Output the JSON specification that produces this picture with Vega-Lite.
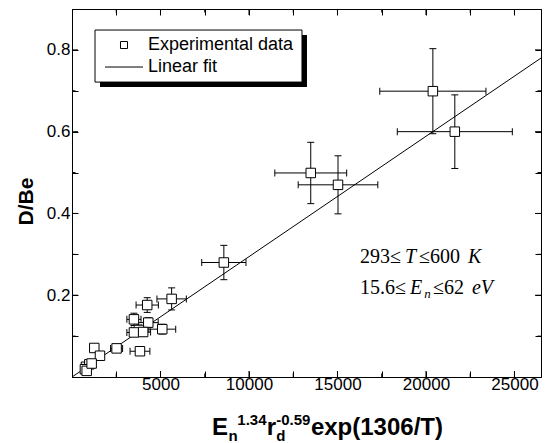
{
  "$schema": "https://vega.github.io/schema/vega-lite/v6.json",
  "width": 469,
  "height": 368,
  "autosize": "none",
  "padding": {"left": 72, "top": 9, "right": 4, "bottom": 66},
  "background": "white",
  "config": {
    "view": {"stroke": "black", "strokeWidth": 1},
    "font": "Liberation Sans",
    "axis": {"domainColor": "black", "tickColor": "black", "labelColor": "black", "titleColor": "black", "grid": false, "zindex": 1, "ticks": true, "tickWidth": 1, "tickOpacity": 1}
  },
  "datasets": {
    "exp": [
      {"x": 20390, "y": 0.699, "xlo": 17390, "xhi": 23390, "ylo": 0.595, "yhi": 0.803},
      {"x": 21630, "y": 0.600, "xlo": 18380, "xhi": 24880, "ylo": 0.510, "yhi": 0.690},
      {"x": 13490, "y": 0.499, "xlo": 11460, "xhi": 15520, "ylo": 0.424, "yhi": 0.574},
      {"x": 15030, "y": 0.470, "xlo": 12780, "xhi": 17280, "ylo": 0.399, "yhi": 0.541},
      {"x": 8580, "y": 0.280, "xlo": 7330, "xhi": 9830, "ylo": 0.238, "yhi": 0.322},
      {"x": 5630, "y": 0.191, "xlo": 4800, "xhi": 6460, "ylo": 0.164, "yhi": 0.218},
      {"x": 5100, "y": 0.117, "xlo": 4340, "xhi": 5860, "ylo": 0.105, "yhi": 0.129},
      {"x": 4250, "y": 0.176, "xlo": 3620, "xhi": 4880, "ylo": 0.158, "yhi": 0.194},
      {"x": 3500, "y": 0.141, "xlo": 3100, "xhi": 3900, "ylo": 0.126, "yhi": 0.156},
      {"x": 4310, "y": 0.133, "xlo": 3750, "xhi": 4870, "ylo": 0.121, "yhi": 0.145},
      {"x": 3780, "y": 0.115, "xlo": 3360, "xhi": 4200, "ylo": 0.103, "yhi": 0.127},
      {"x": 3500, "y": 0.109, "xlo": 3100, "xhi": 3900, "ylo": 0.099, "yhi": 0.119},
      {"x": 4020, "y": 0.110, "xlo": 3600, "xhi": 4440, "ylo": 0.100, "yhi": 0.120},
      {"x": 3840, "y": 0.063, "xlo": 3280, "xhi": 4400, "ylo": 0.063, "yhi": 0.063},
      {"x": 2520, "y": 0.070, "xlo": 2180, "xhi": 2860, "ylo": 0.070, "yhi": 0.070},
      {"x": 1260, "y": 0.071, "xlo": 1260, "xhi": 1260, "ylo": 0.071, "yhi": 0.071},
      {"x": 1580, "y": 0.052, "xlo": 1580, "xhi": 1580, "ylo": 0.052, "yhi": 0.052},
      {"x": 790, "y": 0.025, "xlo": 790, "xhi": 790, "ylo": 0.025, "yhi": 0.025},
      {"x": 980, "y": 0.031, "xlo": 980, "xhi": 980, "ylo": 0.031, "yhi": 0.031},
      {"x": 730, "y": 0.019, "xlo": 730, "xhi": 730, "ylo": 0.019, "yhi": 0.019},
      {"x": 830, "y": 0.015, "xlo": 830, "xhi": 830, "ylo": 0.015, "yhi": 0.015},
      {"x": 1110, "y": 0.033, "xlo": 1110, "xhi": 1110, "ylo": 0.033, "yhi": 0.033}
    ],
    "fit": [
      {"x": 0, "y": 0.0},
      {"x": 26500, "y": 0.78}
    ],
    "xmaj": [{"v": 5000}, {"v": 10000}, {"v": 15000}, {"v": 20000}, {"v": 25000}],
    "xmin": [{"v": 2500}, {"v": 7500}, {"v": 12500}, {"v": 17500}, {"v": 22500}],
    "ymaj": [{"v": 0.2}, {"v": 0.4}, {"v": 0.6}, {"v": 0.8}],
    "ymin": [{"v": 0.1}, {"v": 0.3}, {"v": 0.5}, {"v": 0.7}],
    "one": [{}]
  },
  "layer": [
    {
      "data": {"name": "one"},
      "mark": {"type": "rect", "fill": "black", "clip": false},
      "encoding": {
        "x": {"datum": 1582, "type": "quantitative", "scale": {"domain": [0, 26500], "nice": false, "zero": false}, "axis": null},
        "x2": {"datum": 13278},
        "y": {"datum": 0.8364, "type": "quantitative", "scale": {"domain": [0, 0.9], "nice": false, "zero": false}, "axis": null},
        "y2": {"datum": 0.7092}
      }
    },
    {
      "data": {"name": "exp"},
      "mark": {"type": "rule", "color": "black", "strokeWidth": 1},
      "encoding": {
        "x": {"field": "x", "type": "quantitative", "scale": {"domain": [0, 26500], "nice": false, "zero": false}, "axis": null},
        "y": {"field": "ylo", "type": "quantitative", "scale": {"domain": [0, 0.9], "nice": false, "zero": false}, "axis": null},
        "y2": {"field": "yhi"}
      }
    },
    {
      "data": {"name": "exp"},
      "mark": {"type": "rule", "color": "black", "strokeWidth": 1},
      "encoding": {
        "x": {"field": "xlo", "type": "quantitative", "scale": {"domain": [0, 26500], "nice": false, "zero": false}, "axis": null},
        "x2": {"field": "xhi"},
        "y": {"field": "y", "type": "quantitative", "scale": {"domain": [0, 0.9], "nice": false, "zero": false}, "axis": null}
      }
    },
    {
      "data": {"name": "exp"},
      "mark": {"type": "tick", "orient": "horizontal", "size": 7, "thickness": 1, "color": "black", "opacity": 1},
      "encoding": {
        "x": {"field": "x", "type": "quantitative", "scale": {"domain": [0, 26500], "nice": false, "zero": false}, "axis": null},
        "y": {"field": "ylo", "type": "quantitative", "scale": {"domain": [0, 0.9], "nice": false, "zero": false}, "axis": null}
      }
    },
    {
      "data": {"name": "exp"},
      "mark": {"type": "tick", "orient": "horizontal", "size": 7, "thickness": 1, "color": "black", "opacity": 1},
      "encoding": {
        "x": {"field": "x", "type": "quantitative", "scale": {"domain": [0, 26500], "nice": false, "zero": false}, "axis": null},
        "y": {"field": "yhi", "type": "quantitative", "scale": {"domain": [0, 0.9], "nice": false, "zero": false}, "axis": null}
      }
    },
    {
      "data": {"name": "exp"},
      "mark": {"type": "tick", "orient": "vertical", "size": 7, "thickness": 1, "color": "black", "opacity": 1},
      "encoding": {
        "x": {"field": "xlo", "type": "quantitative", "scale": {"domain": [0, 26500], "nice": false, "zero": false}, "axis": null},
        "y": {"field": "y", "type": "quantitative", "scale": {"domain": [0, 0.9], "nice": false, "zero": false}, "axis": null}
      }
    },
    {
      "data": {"name": "exp"},
      "mark": {"type": "tick", "orient": "vertical", "size": 7, "thickness": 1, "color": "black", "opacity": 1},
      "encoding": {
        "x": {"field": "xhi", "type": "quantitative", "scale": {"domain": [0, 26500], "nice": false, "zero": false}, "axis": null},
        "y": {"field": "y", "type": "quantitative", "scale": {"domain": [0, 0.9], "nice": false, "zero": false}, "axis": null}
      }
    },
    {
      "data": {"name": "fit"},
      "mark": {"type": "line", "color": "black", "strokeWidth": 1},
      "encoding": {
        "x": {"field": "x", "type": "quantitative", "scale": {"domain": [0, 26500], "nice": false, "zero": false},
          "axis": {"orient": "top", "title": null, "labels": false, "values": [2500, 5000, 7500, 10000, 12500, 15000, 17500, 20000, 22500, 25000], "tickSize": -6, "domain": true}},
        "y": {"field": "y", "type": "quantitative", "scale": {"domain": [0, 0.9], "nice": false, "zero": false},
          "axis": {"orient": "right", "title": null, "labels": false, "values": [0.1, 0.2, 0.3, 0.4, 0.5, 0.6, 0.7, 0.8], "tickSize": -6, "domain": true}}
      }
    },
    {
      "data": {"name": "exp"},
      "mark": {"type": "point", "shape": "square", "filled": false, "fill": "white", "fillOpacity": 1, "stroke": "black", "color": "black", "strokeWidth": 1, "size": 90, "opacity": 1},
      "encoding": {
        "x": {"field": "x", "type": "quantitative", "scale": {"domain": [0, 26500], "nice": false, "zero": false},
          "axis": {"orient": "bottom", "title": null, "format": "d", "values": [2500, 5000, 7500, 10000, 12500, 15000, 17500, 20000, 22500, 25000],
            "labelExpr": "datum.value % 5000 == 0 ? datum.label : ''", "labelOverlap": false, "labelFlush": false,
            "labelFont": "Liberation Sans", "labelFontSize": 17, "labelPadding": 5, "tickSize": -6, "domain": true}},
        "y": {"field": "y", "type": "quantitative", "scale": {"domain": [0, 0.9], "nice": false, "zero": false},
          "axis": {"orient": "left", "title": "D/Be", "format": ".1f", "values": [0.1, 0.2, 0.3, 0.4, 0.5, 0.6, 0.7, 0.8],
            "labelExpr": "round(datum.value*10) % 2 == 0 ? datum.label : ''", "labelOverlap": false, "labelFlush": false,
            "labelFont": "Liberation Sans", "labelFontSize": 17, "labelPadding": 8, "tickSize": -6, "domain": true,
            "titleFont": "Liberation Sans", "titleFontSize": 21, "titleFontWeight": "bold", "titlePadding": 10, "titleY": 192}}
      }
    },
    {
      "data": {"name": "xmaj"},
      "mark": {"type": "tick", "orient": "vertical", "size": 12, "thickness": 1, "color": "black", "opacity": 1, "clip": true},
      "encoding": {
        "x": {"field": "v", "type": "quantitative", "scale": {"domain": [0, 26500], "nice": false, "zero": false}, "axis": null},
        "y": {"datum": 0, "type": "quantitative", "scale": {"domain": [0, 0.9], "nice": false, "zero": false}, "axis": null}
      }
    },
    {
      "data": {"name": "xmaj"},
      "mark": {"type": "tick", "orient": "vertical", "size": 12, "thickness": 1, "color": "black", "opacity": 1, "clip": true},
      "encoding": {
        "x": {"field": "v", "type": "quantitative", "scale": {"domain": [0, 26500], "nice": false, "zero": false}, "axis": null},
        "y": {"datum": 0.9, "type": "quantitative", "scale": {"domain": [0, 0.9], "nice": false, "zero": false}, "axis": null}
      }
    },
    {
      "data": {"name": "xmin"},
      "mark": {"type": "tick", "orient": "vertical", "size": 7, "thickness": 1, "color": "black", "opacity": 1, "clip": true},
      "encoding": {
        "x": {"field": "v", "type": "quantitative", "scale": {"domain": [0, 26500], "nice": false, "zero": false}, "axis": null},
        "y": {"datum": 0, "type": "quantitative", "scale": {"domain": [0, 0.9], "nice": false, "zero": false}, "axis": null}
      }
    },
    {
      "data": {"name": "xmin"},
      "mark": {"type": "tick", "orient": "vertical", "size": 7, "thickness": 1, "color": "black", "opacity": 1, "clip": true},
      "encoding": {
        "x": {"field": "v", "type": "quantitative", "scale": {"domain": [0, 26500], "nice": false, "zero": false}, "axis": null},
        "y": {"datum": 0.9, "type": "quantitative", "scale": {"domain": [0, 0.9], "nice": false, "zero": false}, "axis": null}
      }
    },
    {
      "data": {"name": "ymaj"},
      "mark": {"type": "tick", "orient": "horizontal", "size": 12, "thickness": 1, "color": "black", "opacity": 1, "clip": true},
      "encoding": {
        "x": {"datum": 0, "type": "quantitative", "scale": {"domain": [0, 26500], "nice": false, "zero": false}, "axis": null},
        "y": {"field": "v", "type": "quantitative", "scale": {"domain": [0, 0.9], "nice": false, "zero": false}, "axis": null}
      }
    },
    {
      "data": {"name": "ymaj"},
      "mark": {"type": "tick", "orient": "horizontal", "size": 12, "thickness": 1, "color": "black", "opacity": 1, "clip": true},
      "encoding": {
        "x": {"datum": 26500, "type": "quantitative", "scale": {"domain": [0, 26500], "nice": false, "zero": false}, "axis": null},
        "y": {"field": "v", "type": "quantitative", "scale": {"domain": [0, 0.9], "nice": false, "zero": false}, "axis": null}
      }
    },
    {
      "data": {"name": "ymin"},
      "mark": {"type": "tick", "orient": "horizontal", "size": 7, "thickness": 1, "color": "black", "opacity": 1, "clip": true},
      "encoding": {
        "x": {"datum": 0, "type": "quantitative", "scale": {"domain": [0, 26500], "nice": false, "zero": false}, "axis": null},
        "y": {"field": "v", "type": "quantitative", "scale": {"domain": [0, 0.9], "nice": false, "zero": false}, "axis": null}
      }
    },
    {
      "data": {"name": "ymin"},
      "mark": {"type": "tick", "orient": "horizontal", "size": 7, "thickness": 1, "color": "black", "opacity": 1, "clip": true},
      "encoding": {
        "x": {"datum": 26500, "type": "quantitative", "scale": {"domain": [0, 26500], "nice": false, "zero": false}, "axis": null},
        "y": {"field": "v", "type": "quantitative", "scale": {"domain": [0, 0.9], "nice": false, "zero": false}, "axis": null}
      }
    },
    {
      "data": {"name": "one"},
      "mark": {"type": "rect", "fill": "white", "stroke": "black", "strokeWidth": 1, "clip": false},
      "encoding": {
        "x": {"datum": 1300, "type": "quantitative", "scale": {"domain": [0, 26500], "nice": false, "zero": false}, "axis": null},
        "x2": {"datum": 12995},
        "y": {"datum": 0.8486, "type": "quantitative", "scale": {"domain": [0, 0.9], "nice": false, "zero": false}, "axis": null},
        "y2": {"datum": 0.7213}
      }
    },
    {
      "data": {"name": "one"},
      "mark": {"type": "point", "shape": "square", "filled": false, "fill": "white", "stroke": "black", "strokeWidth": 1, "size": 49, "opacity": 1},
      "encoding": {
        "x": {"datum": 2938, "type": "quantitative", "scale": {"domain": [0, 26500], "nice": false, "zero": false}, "axis": null},
        "y": {"datum": 0.8119, "type": "quantitative", "scale": {"domain": [0, 0.9], "nice": false, "zero": false}, "axis": null}
      }
    },
    {
      "data": {"name": "one"},
      "mark": {"type": "rule", "color": "black", "strokeWidth": 1},
      "encoding": {
        "x": {"datum": 1865, "type": "quantitative", "scale": {"domain": [0, 26500], "nice": false, "zero": false}, "axis": null},
        "x2": {"datum": 4012},
        "y": {"datum": 0.7581, "type": "quantitative", "scale": {"domain": [0, 0.9], "nice": false, "zero": false}, "axis": null}
      }
    },
    {"data": {"name": "one"}, "mark": {"type": "text", "text": "Experimental data", "align": "left", "baseline": "middle", "font": "Liberation Sans", "fontSize": 18, "color": "black"},
     "encoding": {"x": {"datum": 4294, "type": "quantitative", "scale": {"domain": [0, 26500], "nice": false, "zero": false}, "axis": null},
                  "y": {"datum": 0.8119, "type": "quantitative", "scale": {"domain": [0, 0.9], "nice": false, "zero": false}, "axis": null}}},
    {"data": {"name": "one"}, "mark": {"type": "text", "text": "Linear fit", "align": "left", "baseline": "middle", "font": "Liberation Sans", "fontSize": 18, "color": "black"},
     "encoding": {"x": {"datum": 4294, "type": "quantitative", "scale": {"domain": [0, 26500], "nice": false, "zero": false}, "axis": null},
                  "y": {"datum": 0.7581, "type": "quantitative", "scale": {"domain": [0, 0.9], "nice": false, "zero": false}, "axis": null}}},
    {"data": {"name": "one"}, "mark": {"type": "text", "text": "293≤", "align": "left", "baseline": "alphabetic", "font": "Liberation Serif", "fontSize": 20, "color": "black"},
     "encoding": {"x": {"datum": 16272, "type": "quantitative", "scale": {"domain": [0, 26500], "nice": false, "zero": false}, "axis": null},
                  "y": {"datum": 0.278, "type": "quantitative", "scale": {"domain": [0, 0.9], "nice": false, "zero": false}, "axis": null}}},
    {"data": {"name": "one"}, "mark": {"type": "text", "text": "T", "align": "left", "baseline": "alphabetic", "font": "Liberation Serif", "fontStyle": "italic", "fontSize": 20, "color": "black"},
     "encoding": {"x": {"datum": 18815, "type": "quantitative", "scale": {"domain": [0, 26500], "nice": false, "zero": false}, "axis": null},
                  "y": {"datum": 0.278, "type": "quantitative", "scale": {"domain": [0, 0.9], "nice": false, "zero": false}, "axis": null}}},
    {"data": {"name": "one"}, "mark": {"type": "text", "text": "≤600", "align": "left", "baseline": "alphabetic", "font": "Liberation Serif", "fontSize": 20, "color": "black"},
     "encoding": {"x": {"datum": 19606, "type": "quantitative", "scale": {"domain": [0, 26500], "nice": false, "zero": false}, "axis": null},
                  "y": {"datum": 0.278, "type": "quantitative", "scale": {"domain": [0, 0.9], "nice": false, "zero": false}, "axis": null}}},
    {"data": {"name": "one"}, "mark": {"type": "text", "text": "K", "align": "left", "baseline": "alphabetic", "font": "Liberation Serif", "fontStyle": "italic", "fontSize": 20, "color": "black"},
     "encoding": {"x": {"datum": 22374, "type": "quantitative", "scale": {"domain": [0, 26500], "nice": false, "zero": false}, "axis": null},
                  "y": {"datum": 0.278, "type": "quantitative", "scale": {"domain": [0, 0.9], "nice": false, "zero": false}, "axis": null}}},
    {"data": {"name": "one"}, "mark": {"type": "text", "text": "15.6≤", "align": "left", "baseline": "alphabetic", "font": "Liberation Serif", "fontSize": 20, "color": "black"},
     "encoding": {"x": {"datum": 16272, "type": "quantitative", "scale": {"domain": [0, 26500], "nice": false, "zero": false}, "axis": null},
                  "y": {"datum": 0.2024, "type": "quantitative", "scale": {"domain": [0, 0.9], "nice": false, "zero": false}, "axis": null}}},
    {"data": {"name": "one"}, "mark": {"type": "text", "text": "E", "align": "left", "baseline": "alphabetic", "font": "Liberation Serif", "fontStyle": "italic", "fontSize": 20, "color": "black"},
     "encoding": {"x": {"datum": 19097, "type": "quantitative", "scale": {"domain": [0, 26500], "nice": false, "zero": false}, "axis": null},
                  "y": {"datum": 0.2024, "type": "quantitative", "scale": {"domain": [0, 0.9], "nice": false, "zero": false}, "axis": null}}},
    {"data": {"name": "one"}, "mark": {"type": "text", "text": "n", "align": "left", "baseline": "alphabetic", "font": "Liberation Serif", "fontStyle": "italic", "fontSize": 13, "dy": 4, "color": "black"},
     "encoding": {"x": {"datum": 19900, "type": "quantitative", "scale": {"domain": [0, 26500], "nice": false, "zero": false}, "axis": null},
                  "y": {"datum": 0.2024, "type": "quantitative", "scale": {"domain": [0, 0.9], "nice": false, "zero": false}, "axis": null}}},
    {"data": {"name": "one"}, "mark": {"type": "text", "text": "≤62", "align": "left", "baseline": "alphabetic", "font": "Liberation Serif", "fontSize": 20, "color": "black"},
     "encoding": {"x": {"datum": 20397, "type": "quantitative", "scale": {"domain": [0, 26500], "nice": false, "zero": false}, "axis": null},
                  "y": {"datum": 0.2024, "type": "quantitative", "scale": {"domain": [0, 0.9], "nice": false, "zero": false}, "axis": null}}},
    {"data": {"name": "one"}, "mark": {"type": "text", "text": "eV", "align": "left", "baseline": "alphabetic", "font": "Liberation Serif", "fontStyle": "italic", "fontSize": 20, "color": "black"},
     "encoding": {"x": {"datum": 22600, "type": "quantitative", "scale": {"domain": [0, 26500], "nice": false, "zero": false}, "axis": null},
                  "y": {"datum": 0.2024, "type": "quantitative", "scale": {"domain": [0, 0.9], "nice": false, "zero": false}, "axis": null}}},
    {"data": {"name": "one"}, "mark": {"type": "text", "text": "E", "align": "left", "baseline": "alphabetic", "font": "Liberation Sans", "fontWeight": "bold", "fontSize": 24, "color": "black", "clip": false},
     "encoding": {"x": {"datum": 7910, "type": "quantitative", "scale": {"domain": [0, 26500], "nice": false, "zero": false}, "axis": null},
                  "y": {"datum": -0.1418, "type": "quantitative", "scale": {"domain": [0, 0.9], "nice": false, "zero": false}, "axis": null}}},
    {"data": {"name": "one"}, "mark": {"type": "text", "text": "n", "align": "left", "baseline": "alphabetic", "font": "Liberation Sans", "fontWeight": "bold", "fontSize": 15, "dy": 6, "color": "black", "clip": false},
     "encoding": {"x": {"datum": 8840, "type": "quantitative", "scale": {"domain": [0, 26500], "nice": false, "zero": false}, "axis": null},
                  "y": {"datum": -0.1418, "type": "quantitative", "scale": {"domain": [0, 0.9], "nice": false, "zero": false}, "axis": null}}},
    {"data": {"name": "one"}, "mark": {"type": "text", "text": "1.34", "align": "left", "baseline": "alphabetic", "font": "Liberation Sans", "fontWeight": "bold", "fontSize": 15, "dy": -10, "color": "black", "clip": false},
     "encoding": {"x": {"datum": 9340, "type": "quantitative", "scale": {"domain": [0, 26500], "nice": false, "zero": false}, "axis": null},
                  "y": {"datum": -0.1418, "type": "quantitative", "scale": {"domain": [0, 0.9], "nice": false, "zero": false}, "axis": null}}},
    {"data": {"name": "one"}, "mark": {"type": "text", "text": "r", "align": "left", "baseline": "alphabetic", "font": "Liberation Sans", "fontWeight": "bold", "fontSize": 24, "color": "black", "clip": false},
     "encoding": {"x": {"datum": 11000, "type": "quantitative", "scale": {"domain": [0, 26500], "nice": false, "zero": false}, "axis": null},
                  "y": {"datum": -0.1418, "type": "quantitative", "scale": {"domain": [0, 0.9], "nice": false, "zero": false}, "axis": null}}},
    {"data": {"name": "one"}, "mark": {"type": "text", "text": "d", "align": "left", "baseline": "alphabetic", "font": "Liberation Sans", "fontWeight": "bold", "fontSize": 15, "dy": 6, "color": "black", "clip": false},
     "encoding": {"x": {"datum": 11540, "type": "quantitative", "scale": {"domain": [0, 26500], "nice": false, "zero": false}, "axis": null},
                  "y": {"datum": -0.1418, "type": "quantitative", "scale": {"domain": [0, 0.9], "nice": false, "zero": false}, "axis": null}}},
    {"data": {"name": "one"}, "mark": {"type": "text", "text": "-0.59", "align": "left", "baseline": "alphabetic", "font": "Liberation Sans", "fontWeight": "bold", "fontSize": 15, "dy": -10, "color": "black", "clip": false},
     "encoding": {"x": {"datum": 11540, "type": "quantitative", "scale": {"domain": [0, 26500], "nice": false, "zero": false}, "axis": null},
                  "y": {"datum": -0.1418, "type": "quantitative", "scale": {"domain": [0, 0.9], "nice": false, "zero": false}, "axis": null}}},
    {"data": {"name": "one"}, "mark": {"type": "text", "text": "exp(1306/T)", "align": "left", "baseline": "alphabetic", "font": "Liberation Sans", "fontWeight": "bold", "fontSize": 24, "color": "black", "clip": false},
     "encoding": {"x": {"datum": 13500, "type": "quantitative", "scale": {"domain": [0, 26500], "nice": false, "zero": false}, "axis": null},
                  "y": {"datum": -0.1418, "type": "quantitative", "scale": {"domain": [0, 0.9], "nice": false, "zero": false}, "axis": null}}}
  ]
}
